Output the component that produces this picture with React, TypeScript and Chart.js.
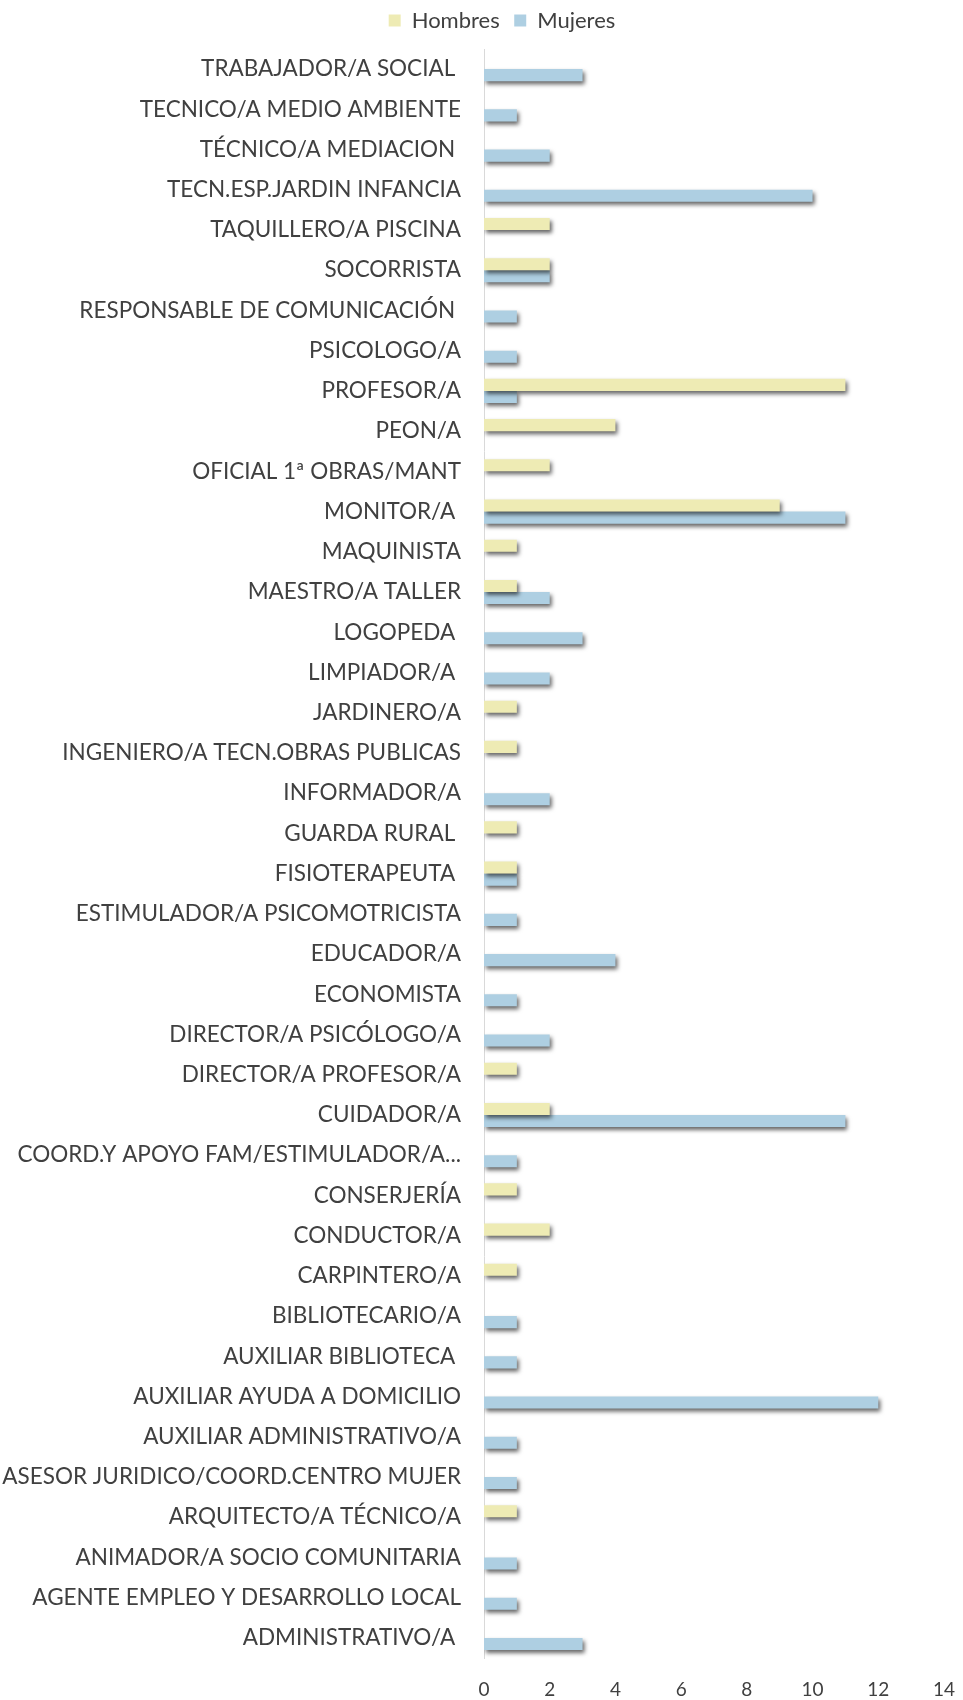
import React, { useEffect, useRef } from "react";
import { Chart, registerables } from "chart.js";

Chart.register(...registerables);

const categories: string[] = [
  "TRABAJADOR/A SOCIAL ",
  "TECNICO/A MEDIO AMBIENTE",
  "TÉCNICO/A MEDIACION ",
  "TECN.ESP.JARDIN INFANCIA",
  "TAQUILLERO/A PISCINA",
  "SOCORRISTA",
  "RESPONSABLE DE COMUNICACIÓN ",
  "PSICOLOGO/A",
  "PROFESOR/A",
  "PEON/A",
  "OFICIAL 1ª OBRAS/MANT",
  "MONITOR/A ",
  "MAQUINISTA",
  "MAESTRO/A TALLER",
  "LOGOPEDA ",
  "LIMPIADOR/A ",
  "JARDINERO/A",
  "INGENIERO/A TECN.OBRAS PUBLICAS",
  "INFORMADOR/A",
  "GUARDA RURAL ",
  "FISIOTERAPEUTA ",
  "ESTIMULADOR/A PSICOMOTRICISTA",
  "EDUCADOR/A",
  "ECONOMISTA",
  "DIRECTOR/A PSICÓLOGO/A",
  "DIRECTOR/A PROFESOR/A",
  "CUIDADOR/A",
  "COORD.Y APOYO FAM/ESTIMULADOR/A...",
  "CONSERJERÍA",
  "CONDUCTOR/A",
  "CARPINTERO/A",
  "BIBLIOTECARIO/A",
  "AUXILIAR BIBLIOTECA ",
  "AUXILIAR AYUDA A DOMICILIO",
  "AUXILIAR ADMINISTRATIVO/A",
  "ASESOR JURIDICO/COORD.CENTRO MUJER",
  "ARQUITECTO/A TÉCNICO/A",
  "ANIMADOR/A SOCIO COMUNITARIA",
  "AGENTE EMPLEO Y DESARROLLO LOCAL",
  "ADMINISTRATIVO/A ",
];

const hombres: (number | null)[] = [
  null, null, null, null, 2, 2, null, null, 11, 4,
  2, 9, 1, 1, null, null, 1, 1, null, 1,
  1, null, null, null, null, 1, 2, null, 1, 2,
  1, null, null, null, null, null, 1, null, null, null,
];

const mujeres: (number | null)[] = [
  3, 1, 2, 10, null, 2, 1, 1, 1, null,
  null, 11, null, 2, 3, 2, null, null, 2, null,
  1, 1, 4, 1, 2, null, 11, 1, null, null,
  null, 1, 1, 12, 1, 1, null, 1, 1, 3,
];

const xTicks: number[] = [0, 2, 4, 6, 8, 10, 12, 14];

const FONT = "Lato";
const TEXT = "#404040";

const shadowPlugin = {
  id: "barShadow",
  beforeDatasetsDraw(chart: any) {
    const ctx = chart.ctx;
    ctx.save();
    ctx.shadowColor = "rgba(0,0,0,0.6)";
    ctx.shadowBlur = 4;
    ctx.shadowOffsetX = 2;
    ctx.shadowOffsetY = 3;
  },
  afterDatasetsDraw(chart: any) {
    chart.ctx.restore();
  },
};

const legendTweak = {
  id: "legendTweak",
  afterInit(chart: any) {
    const lg = chart.legend;
    if (lg && !lg.__patched) {
      const origFit = lg.fit.bind(lg);
      lg.fit = () => {
        origFit();
        lg.height += 7.5;
      };
      lg.__patched = true;
    }
  },
  afterLayout(chart: any) {
    const lg = chart.legend;
    if (lg) {
      lg.left += 30;
      lg.right += 30;
    }
  },
};

export default function App() {
  const ref = useRef<HTMLCanvasElement | null>(null);
  useEffect(() => {
    if (!ref.current) return;
    const chart = new Chart(ref.current, {
      type: "bar",
      data: {
        labels: categories,
        datasets: [
          {
            label: "Hombres",
            data: hombres,
            backgroundColor: "#EEEBB4",
            barPercentage: 1,
            categoryPercentage: 0.6,
          },
          {
            label: "Mujeres",
            data: mujeres,
            backgroundColor: "#AECFE2",
            barPercentage: 1,
            categoryPercentage: 0.6,
          },
        ],
      },
      options: {
        indexAxis: "y",
        animation: false,
        responsive: false,
        maintainAspectRatio: false,
        layout: { padding: { top: -5, right: 19, bottom: 0, left: 0 } },
        plugins: {
          legend: {
            position: "top",
            labels: {
              font: { family: FONT, size: 22 },
              color: TEXT,
              boxWidth: 12,
              boxHeight: 12,
              padding: 14.5,
            },
          },
          tooltip: { enabled: false },
        },
        scales: {
          x: {
            min: 0,
            max: 14,
            afterBuildTicks(scale: any) {
              scale.ticks = xTicks.map((v) => ({ value: v }));
            },
            afterFit(scale: any) {
              scale.paddingLeft = 0;
              scale.paddingRight = 0;
              scale.height = 42;
            },
            grid: { display: false, drawTicks: false },
            border: { display: false },
            ticks: {
              font: { family: FONT, size: 19 },
              color: TEXT,
              padding: 20,
              maxRotation: 0,
            },
          },
          y: {
            afterFit(scale: any) {
              scale.width = 484;
              scale.paddingTop = 0;
              scale.paddingBottom = 0;
            },
            grid: { display: false, drawTicks: false },
            border: { display: true, color: "#D9D9D9", width: 1 },
            ticks: {
              font: { family: FONT, size: 22.5 },
              color: TEXT,
              padding: 23,
              autoSkip: false,
            },
          },
        },
      },
      plugins: [shadowPlugin, legendTweak],
    });
    return () => chart.destroy();
  }, []);
  return (
    <div style={{ position: "fixed", left: 0, top: 0, width: 963, height: 1700 }}>
      <canvas ref={ref} width={963} height={1700} style={{ width: 963, height: 1700 }} />
    </div>
  );
}
